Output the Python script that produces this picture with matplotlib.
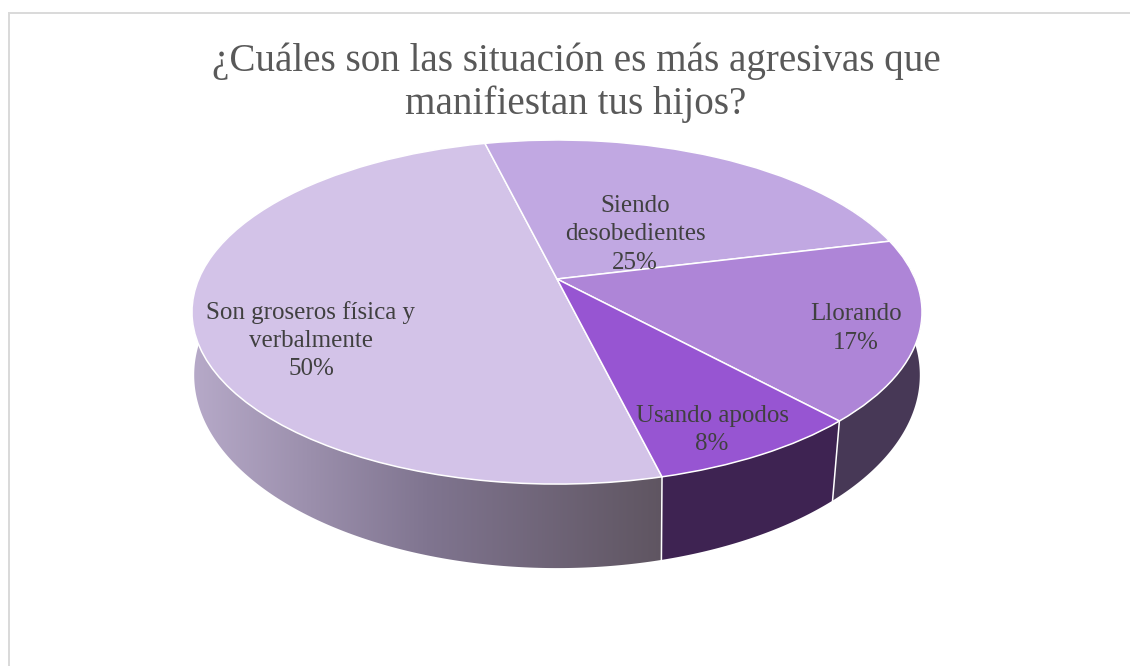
import numpy as np
import matplotlib
matplotlib.use("Agg")
import matplotlib.pyplot as plt
from matplotlib.transforms import Transform
from matplotlib.patches import Polygon
from matplotlib.colors import LinearSegmentedColormap

title = "¿Cuáles son las situación es más agresivas que\nmanifiestan tus hijos?"
categories = ["Son groseros física y\nverbalmente", "Siendo\ndesobedientes", "Llorando", "Usando apodos"]
values = [50, 25, 17, 8]
top_colors = ["#d3c3e8", "#c1a8e2", "#ae85d7", "#9755d2"]
side_colors = ["#b7aac9", "#473856", "#473856", "#3e2352"]
label_xy = [(311, 340.5), (635, 234.5), (856, 328.5), (712, 430)]

CX, CY, K, A, B = 557.0, 279.0, 0.192, 165.7, 358.2


class Tilt(Transform):
    input_dims = output_dims = 2
    is_separable = False

    def __init__(self, sx=1.0, sy=1.0, drop=0.0):
        super().__init__()
        self.sx, self.sy, self.drop = sx, sy, drop

    def transform_non_affine(self, xy):
        xy = np.asarray(xy, float)
        d = 1 + K * xy[:, 1]
        return np.column_stack([CX + self.sx * B * xy[:, 0] / d,
                                CY - self.sy * A * xy[:, 1] / d + self.drop])


upper, lower = Tilt(), Tilt(0.994, 1.122, 59)

fig = plt.figure(figsize=(11.3, 6.66), dpi=100)
ax = fig.add_axes([0, 0, 1, 1])
wedges, _ = ax.pie(values, startangle=-76.2, counterclock=False, colors=top_colors,
                   wedgeprops=dict(edgecolor="white", linewidth=1.1))
ax.set_aspect("auto")
ax.set_xlim(0, 1130)
ax.set_ylim(666, 0)
ax.axis("off")
for w in wedges:
    w.set_transform(upper + ax.transData)
    w.set_zorder(5)


def unit(t):
    t = np.radians(t)
    return np.column_stack([np.cos(t), np.sin(t)])


def norm(t):
    return (t + 180) % 360 - 180


big, back, right, small = wedges
t_front = norm(small.theta1)


def lag(t):
    # the lower rim of the wall trails the top rim slightly on the right-hand side
    return t - 1.1 * (t - t_front) / 28.8


def side_polygon(t1, t2, warp=False):
    ts = np.linspace(t1, t2, 240)
    low = lag(ts) if warp else ts
    return np.vstack([upper.transform(unit(ts)), lower.transform(unit(low))[::-1]])


poly = Polygon(side_polygon(150, norm(big.theta2) + 360), closed=True, transform=ax.transData,
               facecolor="none", edgecolor="none")
ax.add_patch(poly)
cmap = LinearSegmentedColormap.from_list("wall", ["#b7aac9", "#807590", "#5f5561"])
im = ax.imshow(np.linspace(0, 1, 256)[None, :], extent=(190, 664, 600, 300), cmap=cmap,
               aspect="auto", zorder=2)
im.set_clip_path(poly)

for col, lims in [(side_colors[2], (norm(right.theta1), 30)),
                  (side_colors[3], (norm(small.theta1), norm(small.theta2)))]:
    ax.add_patch(Polygon(side_polygon(*lims, warp=True), closed=True, facecolor=col,
                         edgecolor="none", zorder=3))

for t in (norm(right.theta1), norm(small.theta1)):
    a = upper.transform(unit(t))[0]
    b = lower.transform(unit(lag(t)))[0]
    ax.plot([a[0], b[0]], [a[1], b[1]], color="white", lw=1.1, zorder=4)

ax.set_xlim(0, 1130)
ax.set_ylim(666, 0)

# chart frame
ax.plot([9, 9, 1130], [666, 13, 13], color="#d9d9d9", lw=1.4, solid_joinstyle="miter", zorder=1)

serif = "Liberation Serif"
ax.text(576, 83, title, family=serif, fontsize=28.2, color="#595959", ha="center", va="center",
        linespacing=1.2, zorder=6)
for cat, val, (x, y) in zip(categories, values, label_xy):
    ax.text(x, y, f"{cat}\n{val}%", family=serif, fontsize=18, color="#404040", ha="center",
            va="center", linespacing=1.37, zorder=6)

fig.savefig("out.png", dpi=100)
